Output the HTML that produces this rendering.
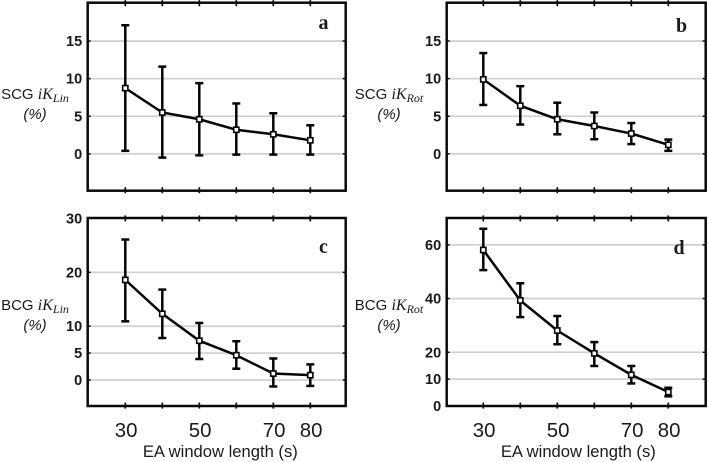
<!DOCTYPE html>
<html>
<head>
<meta charset="utf-8">
<title>EA window length charts</title>
<style>
html,body{margin:0;padding:0;background:#fff;width:708px;height:462px;overflow:hidden}
svg{display:block}
text{font-family:"Liberation Sans",sans-serif;fill:#1a1a1a}
</style>
</head>
<body>
<svg id="chart" width="708" height="462" viewBox="0 0 708 462" xmlns="http://www.w3.org/2000/svg" style="filter:blur(0.35px)"></svg>
<script>
const categories = [30, 40, 50, 60, 70, 80];
const xTickLabels = [30, 50, 70, 80];

const meanA = [8.74, 5.5, 4.6, 3.2, 2.6, 1.8];
const upperA = [17.1, 11.6, 9.4, 6.7, 5.4, 3.8];
const lowerA = [0.4, -0.5, -0.2, -0.1, -0.1, -0.1];
const yTicksA = [0, 5, 10, 15];

const meanB = [9.9, 6.4, 4.6, 3.7, 2.7, 1.2];
const upperB = [13.4, 9.0, 6.8, 5.5, 4.1, 1.9];
const lowerB = [6.5, 3.9, 2.6, 1.95, 1.3, 0.4];
const yTicksB = [0, 5, 10, 15];

const meanC = [18.6, 12.3, 7.3, 4.6, 1.2, 0.9];
const upperC = [26.1, 16.8, 10.6, 7.2, 4.0, 2.9];
const lowerC = [10.9, 7.8, 3.9, 2.1, -1.2, -1.1];
const yTicksC = [0, 5, 10, 20];
const yLabelsC = [0, 5, 10, 20, 30];

const meanD = [58.1, 39.3, 28.1, 19.6, 11.6, 5.2];
const upperD = [66, 45.7, 33.5, 23.8, 14.9, 6.8];
const lowerD = [50.6, 33.1, 23, 14.9, 8.4, 3.6];
const yTicksD = [10, 20, 40, 60];
const yLabelsD = [0, 10, 20, 40, 60];

const NS = 'http://www.w3.org/2000/svg';
const svg = document.getElementById('chart');

function make(parent, tag, props, text) {
  const el = document.createElementNS(NS, tag);
  for (const k in props) el.setAttribute(k, props[k]);
  if (text !== undefined) el.textContent = text;
  parent.appendChild(el);
  return el;
}

function drawPanel(p) {
  const group = make(svg, 'g', {});
  
  

  const xs = v => p.x30 + (v - 30) * p.xStep;
  const ys = v => p.bottom - (v - p.domain[0]) / (p.domain[1] - p.domain[0]) * (p.bottom - p.top);

  // gridlines
  p.grid.forEach(v => {
    const g = make(group, 'line', {x1: p.left, x2: p.right, y1: ys(v), y2: ys(v), stroke: '#d2d2d2', 'stroke-width': 1.8});
    
    
    [[p.left, p.left + 3], [p.right - 3, p.right]].forEach(seg => {
      const t = make(group, 'line', {x1: seg[0], x2: seg[1], y1: ys(v), y2: ys(v), stroke: '#111', 'stroke-width': 1.5});
      
      
    });
  });

  // frame
  const frame = make(group, 'rect', {x: p.left, y: p.top, width: p.right - p.left, height: p.bottom - p.top, fill: 'none', stroke: '#0a0a0a', 'stroke-width': 2.5});
  
  

  // x ticks
  categories.forEach(c => {
    [[p.top, p.top + 3.5], [p.bottom - 3.5, p.bottom], [p.top - 2.6, p.top], [p.bottom, p.bottom + 2.6]].forEach(seg => {
      const t = make(group, 'line', {x1: xs(c), x2: xs(c), y1: seg[0], y2: seg[1], stroke: '#111', 'stroke-width': 1.7});
      
      
    });
  });

  // y tick labels
  p.labels.forEach(v => {
    const t = make(group, 'text', {x: p.left - 5.5, y: ys(v) + 5, 'text-anchor': 'end', 'font-size': 14.5, 'font-weight': 'bold', fill: '#2a2a2a'}, String(v));
    
    
  });

  // x tick labels and title
  if (p.showX) {
    xTickLabels.forEach(v => {
      const t = make(group, 'text', {x: xs(v) + 0.8, y: 437, 'text-anchor': 'middle', 'font-size': 20.4}, String(v));
      
      
    });
    const xt = make(group, 'text', {x: p.x30 + 95, y: 457, 'text-anchor': 'middle', 'font-size': 16.6}, 'EA window length (s)');
    
    
  }

  // y axis title
  const yt = make(group, 'text', {x: p.ylx, y: p.yly, 'text-anchor': 'middle', 'font-size': 15});
  
  
  make(yt, 'tspan', {}, p.sensor + ' ');
  make(yt, 'tspan', {'font-family': '"Liberation Serif",serif', 'font-style': 'italic', 'font-size': 16}, 'iK');
  make(yt, 'tspan', {'font-family': '"Liberation Serif",serif', 'font-style': 'italic', 'font-size': 12, dy: 3}, p.sub);
  const yu = make(group, 'text', {x: p.ylx, y: p.yly + 20, 'text-anchor': 'middle', 'font-size': 15, 'font-style': 'italic'}, '(%)');
  
  

  // panel letter
  const letter = make(group, 'text', {x: p.letterX, y: p.letterY, 'text-anchor': 'middle', 'font-size': 20, 'font-weight': 'bold', fill: '#111', style: 'font-family:"Liberation Serif",serif'}, p.id);
  
  

  // error bars
  categories.forEach((c, i) => {
    const x = xs(c);
    const eb = make(group, 'g', {stroke: '#050505', 'stroke-width': 2.5});
    
    
    make(eb, 'line', {x1: x, x2: x, y1: ys(p.upper[i]), y2: ys(p.lower[i])});
    make(eb, 'line', {x1: x - 4, x2: x + 4, y1: ys(p.upper[i]), y2: ys(p.upper[i])});
    make(eb, 'line', {x1: x - 4, x2: x + 4, y1: ys(p.lower[i]), y2: ys(p.lower[i])});
  });

  // mean line
  const pts = categories.map((c, i) => xs(c) + ',' + ys(p.mean[i])).join(' ');
  const line = make(group, 'polyline', {points: pts, fill: 'none', stroke: '#050505', 'stroke-width': 2.5});
  
  

  // markers
  categories.forEach((c, i) => {
    const m = make(group, 'rect', {x: xs(c) - 2.6, y: ys(p.mean[i]) - 2.6, width: 5.2, height: 5.2, fill: '#fff', stroke: '#050505', 'stroke-width': 1.6});
    
    
  });
}

drawPanel({id: 'a', sensor: 'SCG', sub: 'Lin', mean: meanA, upper: upperA, lower: lowerA, grid: yTicksA, labels: yTicksA,
  left: 87.7, right: 345.7, top: 2.7, bottom: 190.7, x30: 125.3, xStep: 3.7, domain: [-4.9, 20.1],
  ylx: 35, yly: 99, letterX: 323.5, letterY: 29, showX: false});
drawPanel({id: 'b', sensor: 'SCG', sub: 'Rot', mean: meanB, upper: upperB, lower: lowerB, grid: yTicksB, labels: yTicksB,
  left: 446.7, right: 705.7, top: 2.7, bottom: 190.7, x30: 483.3, xStep: 3.7, domain: [-4.9, 20.1],
  ylx: 389, yly: 99, letterX: 681.5, letterY: 32, showX: false});
drawPanel({id: 'c', sensor: 'BCG', sub: 'Lin', mean: meanC, upper: upperC, lower: lowerC, grid: yTicksC, labels: yLabelsC,
  left: 87.7, right: 345.7, top: 218, bottom: 406, x30: 125.3, xStep: 3.7, domain: [-4.83, 30.1],
  ylx: 35, yly: 310, letterX: 323.5, letterY: 253, showX: true});
drawPanel({id: 'd', sensor: 'BCG', sub: 'Rot', mean: meanD, upper: upperD, lower: lowerD, grid: yTicksD, labels: yLabelsD,
  left: 446.7, right: 705.7, top: 218, bottom: 406, x30: 483.3, xStep: 3.7, domain: [0, 70],
  ylx: 389, yly: 310, letterX: 679, letterY: 254, showX: true});
</script>
</body>
</html>
